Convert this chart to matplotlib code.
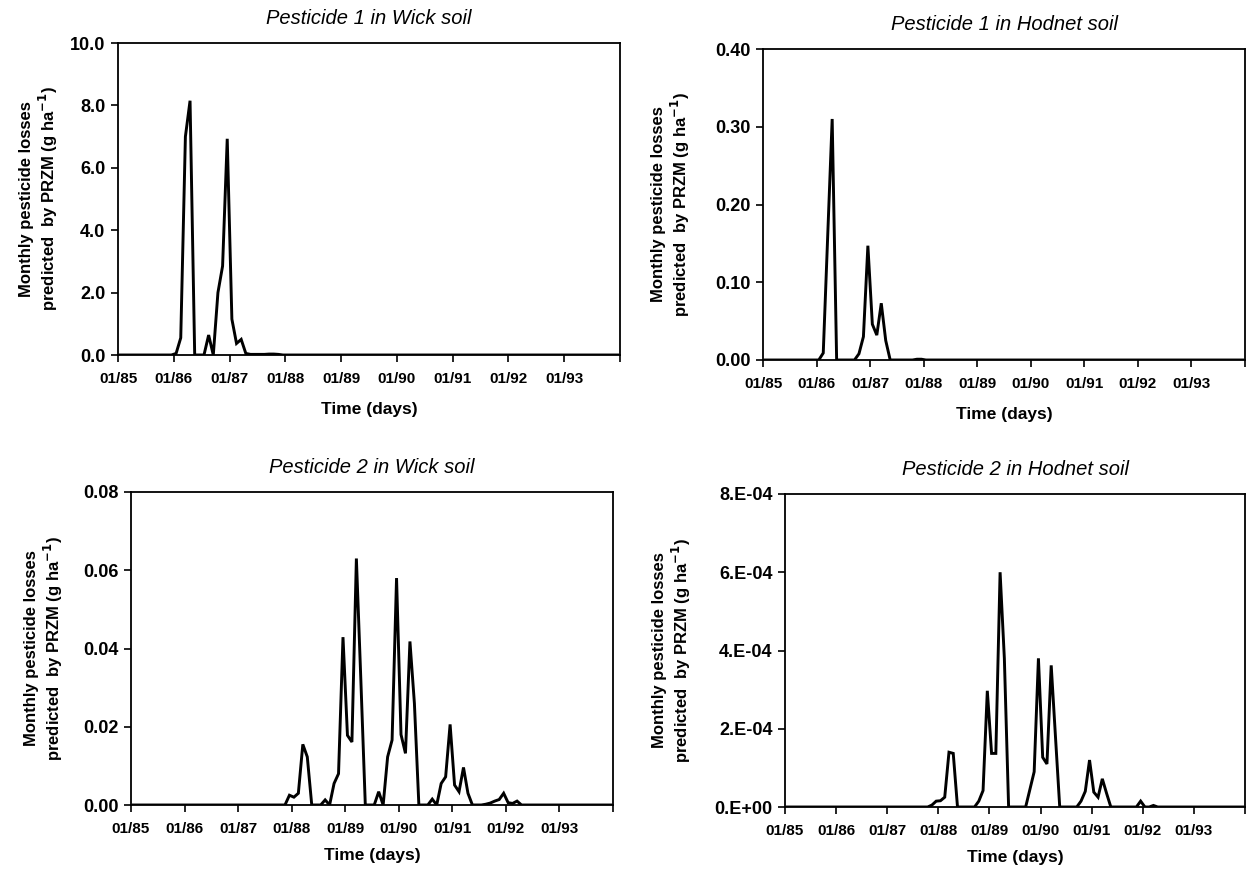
import numpy as np
import matplotlib
matplotlib.use("Agg")
import matplotlib.pyplot as plt

plt.rcParams['font.family'] = ['Liberation Sans', 'DejaVu Sans']

# monthly losses, Jan 1985 .. Dec 1993 (one row per year)
wick_p1 = [
    0, 0, 0, 0, 0, 0, 0, 0, 0, 0, 0, 0,
    0.05, 0.55, 7.0, 8.15, 0, 0, 0, 0.64, 0, 2.0, 2.85, 6.93,
    1.15, 0.37, 0.5, 0.05, 0.02, 0.02, 0.02, 0.02, 0.03, 0.03, 0.02, 0,
    0, 0, 0, 0, 0, 0, 0, 0, 0, 0, 0, 0,
    0, 0, 0, 0, 0, 0, 0, 0, 0, 0, 0, 0,
    0, 0, 0, 0, 0, 0, 0, 0, 0, 0, 0, 0,
    0, 0, 0, 0, 0, 0, 0, 0, 0, 0, 0, 0,
    0, 0, 0, 0, 0, 0, 0, 0, 0, 0, 0, 0,
    0, 0, 0, 0, 0, 0, 0, 0, 0, 0, 0, 0,
]
hodnet_p1 = [
    0, 0, 0, 0, 0, 0, 0, 0, 0, 0, 0, 0,
    0, 0.009, 0.16, 0.31, 0, 0, 0, 0, 0, 0.008, 0.03, 0.147,
    0.046, 0.032, 0.073, 0.025, 0, 0, 0, 0, 0, 0, 0.001, 0.001,
    0, 0, 0, 0, 0, 0, 0, 0, 0, 0, 0, 0,
    0, 0, 0, 0, 0, 0, 0, 0, 0, 0, 0, 0,
    0, 0, 0, 0, 0, 0, 0, 0, 0, 0, 0, 0,
    0, 0, 0, 0, 0, 0, 0, 0, 0, 0, 0, 0,
    0, 0, 0, 0, 0, 0, 0, 0, 0, 0, 0, 0,
    0, 0, 0, 0, 0, 0, 0, 0, 0, 0, 0, 0,
]
wick_p2 = [
    0, 0, 0, 0, 0, 0, 0, 0, 0, 0, 0, 0,
    0, 0, 0, 0, 0, 0, 0, 0, 0, 0, 0, 0,
    0, 0, 0, 0, 0, 0, 0, 0, 0, 0, 0, 0.0025,
    0.002, 0.003, 0.0155, 0.0123, 0, 0, 0, 0.0013, 0, 0.0055, 0.008, 0.0429,
    0.0178, 0.0161, 0.063, 0.032, 0, 0, 0, 0.0034, 0, 0.0123, 0.0166, 0.058,
    0.018, 0.0132, 0.0418, 0.026, 0, 0, 0, 0.0015, 0, 0.0055, 0.0072, 0.0206,
    0.0051, 0.0034, 0.0096, 0.003, 0, 0, 0, 0.0002, 0.0005, 0.001, 0.0014, 0.003,
    0.0006, 0.0004, 0.001, 0, 0, 0, 0, 0, 0, 0, 0, 0,
    0, 0, 0, 0, 0, 0, 0, 0, 0, 0, 0, 0,
]
hodnet_p2 = [
    0, 0, 0, 0, 0, 0, 0, 0, 0, 0, 0, 0,
    0, 0, 0, 0, 0, 0, 0, 0, 0, 0, 0, 0,
    0, 0, 0, 0, 0, 0, 0, 0, 0, 0, 0.5e-5, 1.5e-5,
    1.6e-5, 2.5e-5, 1.4e-4, 1.37e-4, 0, 0, 0, 0, 0, 1.5e-5, 4.2e-5, 2.97e-4,
    1.37e-4, 1.37e-4, 6.0e-4, 3.8e-4, 0, 0, 0, 0, 0, 4.5e-5, 9.0e-5, 3.8e-4,
    1.27e-4, 1.1e-4, 3.62e-4, 1.8e-4, 0, 0, 0, 0, 0, 1.5e-5, 4.0e-5, 1.2e-4,
    3.8e-5, 2.5e-5, 7.2e-5, 3.5e-5, 0, 0, 0, 0, 0, 0, 0, 1.5e-5,
    0, 0, 4e-6, 0, 0, 0, 0, 0, 0, 0, 0, 0,
    0, 0, 0, 0, 0, 0, 0, 0, 0, 0, 0, 0,
]

year_labels = ['01/85', '01/86', '01/87', '01/88', '01/89', '01/90', '01/91', '01/92', '01/93']

panels = [
    # title, data, yticks, ytick labels, axes rect in pixels (left, top, right, bottom), ylabel x, xlabel pad
    ("Pesticide 1 in Wick soil", wick_p1, [0, 2, 4, 6, 8, 10],
     ['0.0', '2.0', '4.0', '6.0', '8.0', '10.0'], (118, 43, 620, 355), -0.116, 12),
    ("Pesticide 1 in Hodnet soil", hodnet_p1, [0, 0.1, 0.2, 0.3, 0.4],
     ['0.00', '0.10', '0.20', '0.30', '0.40'], (763, 49, 1245, 360), -0.147, 12),
    ("Pesticide 2 in Wick soil", wick_p2, [0, 0.02, 0.04, 0.06, 0.08],
     ['0.00', '0.02', '0.04', '0.06', '0.08'], (131, 492, 613, 805), -0.137, 9),
    ("Pesticide 2 in Hodnet soil", hodnet_p2, [0, 2e-4, 4e-4, 6e-4, 8e-4],
     ['0.E+00', '2.E-04', '4.E-04', '6.E-04', '8.E-04'], (785, 494, 1245, 807), -0.2, 9),
]

W, H = 1248, 874
fig = plt.figure(figsize=(W / 100, H / 100), dpi=100)

for title, vals, yt, ytl, (l, t, r, b), lab_x, xpad in panels:
    ax = fig.add_axes([l / W, 1 - b / H, (r - l) / W, (b - t) / H])
    months = np.arange(len(vals)) + 0.5
    ax.plot(months, vals, color='black', lw=2.1, solid_joinstyle='miter')
    ax.set_xlim(0, 108)
    ax.set_ylim(yt[0], yt[-1])
    ax.set_xticks(np.arange(0, 109, 12))
    ax.set_xticklabels(year_labels + [''], fontsize=11, fontweight='bold')
    ax.set_yticks(yt)
    ax.set_yticklabels(ytl, fontsize=13, fontweight='bold')
    ax.tick_params(direction='out', length=5, width=1.2)
    ax.tick_params(axis='x', pad=7)
    ax.tick_params(axis='y', pad=4)
    for s in ax.spines.values():
        s.set_linewidth(1.3)
    ax.set_title(title, fontsize=14.5, fontstyle='italic', pad=14)
    ax.set_xlabel("Time (days)", fontsize=12.5, fontweight='bold', labelpad=xpad)
    ax.set_ylabel("Monthly pesticide losses\npredicted  by PRZM (g ha$^{\\mathbf{-1}}$)",
                  fontsize=12, fontweight='bold', linespacing=1.15)
    ax.yaxis.set_label_coords(lab_x, 0.5)

fig.savefig("out.png", dpi=100)
